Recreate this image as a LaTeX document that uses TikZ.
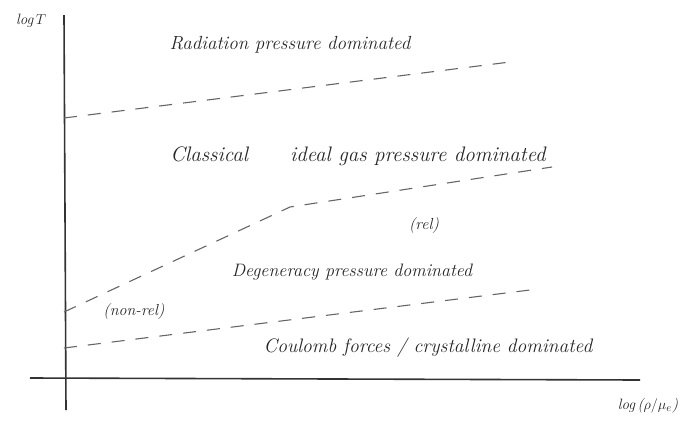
\documentclass[tikz,border=0pt]{standalone}
\begin{document}
\begin{tikzpicture}[x=1pt,y=-1pt,
  axisline/.style={line width=1.6pt,draw=black!80},
  boundary/.style={line width=1.1pt,draw=black!60,dash pattern=on 13pt off 11pt},
  region/.style={font=\fontsize{18}{20}\selectfont\itshape,text=black!85,inner sep=0pt},
  note/.style={font=\fontsize{16}{18}\selectfont\itshape,text=black!85,inner sep=0pt},
  axislabel/.style={font=\fontsize{15}{17}\selectfont\itshape,text=black!85,inner sep=0pt}]
\useasboundingbox (0,0) rectangle (686,424);

% axes
\coordinate (ytop) at (64,15);
\coordinate (ybot) at (66,410);
\coordinate (xleft) at (30,378);
\coordinate (xright) at (640,380);
\draw[axisline] (ytop) -- (ybot);
\draw[axisline] (xleft) -- (xright);
\node[axislabel] (ylab) at (31,21) {log\,$T$};
\node[axislabel] (xlab) at (648,406) {log\,($\rho/\mu_e$)};

% boundary between radiation and gas pressure
\coordinate (a1) at (64,118);
\coordinate (a2) at (510,62);
\draw[boundary] (a1) -- (a2);

% boundary between gas and degeneracy pressure
\coordinate (b1) at (64,312);
\coordinate (b2) at (290,207);
\coordinate (b3) at (552,167);
\draw[boundary] (b1) -- (b2) -- (b3);

% boundary between degeneracy and Coulomb regime
\coordinate (c1) at (64,348);
\coordinate (c2) at (530,290);
\draw[boundary] (c1) -- (c2);

% region labels
\node[region,font=\fontsize{19}{21}\selectfont\itshape] (rad) at (290,45) {Radiation pressure dominated};
\node[region,font=\fontsize{21}{23}\selectfont\itshape] (gas) at (358,156) {Classical\hspace{2em}ideal gas pressure dominated};
\node[region] (deg) at (352,272) {Degeneracy pressure dominated};
\node[region,font=\fontsize{19.5}{22}\selectfont\itshape] (cou) at (428,348) {Coulomb forces / crystalline dominated};
\node[note] (rel) at (424,226) {(rel)};
\node[note] (nonrel) at (134,312) {(non-rel)};
\end{tikzpicture}
\end{document}
